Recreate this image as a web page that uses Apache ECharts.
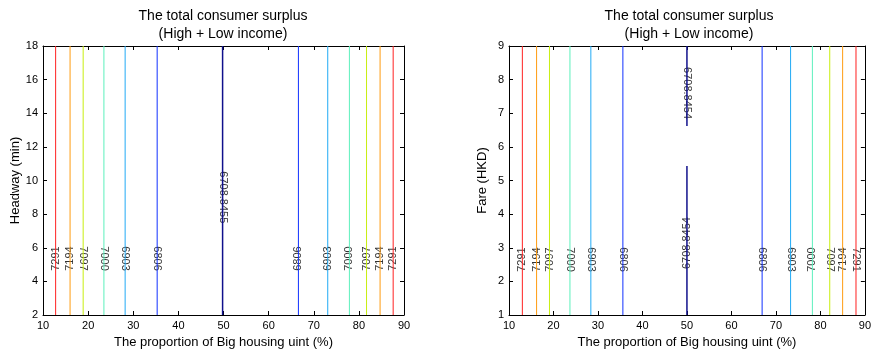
<!DOCTYPE html>
<html><head><meta charset="utf-8">
<script src="https://cdn.jsdelivr.net/npm/echarts@6/dist/echarts.min.js"></script>
<style>html,body{margin:0;padding:0;background:#fff}#c{width:874px;height:354px}</style>
</head><body><div id="c"></div>
<script>
// ---- data ----
const levelLabels = ['7291', '7194', '7097', '7000', '6903', '6806'];
const levelColors = ['#ff2020', '#ff9c10', '#c8ee10', '#5cf0bc', '#20aaf5', '#1030ff'];
const midColor = '#10108c';

// left panel: x = proportion of big housing unit, y = headway
const leftLowX = [12.8, 16.0, 18.9, 23.5, 28.2, 35.3];
const leftHighX = [87.6, 84.7, 81.7, 77.9, 73.1, 66.6];
const leftMidX = 49.8;
const leftMidLabel = '6708.8455';
const leftMidSegments = [[2, 18]];
const leftLabelY = 5.36;
const leftMidLabelY = [9.0];
const leftMidLabelRot = [-90];
const leftLowRot = [90, 90, -90, -90, -90, -90];
const leftHighRot = [90, 90, 90, 90, 90, 90];

// right panel: x = proportion of big housing unit, y = fare
const rightLowX = [13.0, 16.2, 19.1, 23.7, 28.4, 35.6];
const rightHighX = [88.0, 85.0, 82.1, 78.2, 73.3, 66.9];
const rightMidX = 50.0;
const rightMidLabel = '6708.8454';
const rightMidSegments = [[6.62, 9], [1, 5.43]];
const rightLabelY = 2.65;
const rightMidLabelY = [7.6, 3.14];
const rightMidLabelRot = [-90, 90];
const rightLowRot = [90, 90, 90, -90, -90, -90];
const rightHighRot = [-90, 90, -90, 90, -90, -90];

const xTicksMin = 10, xTicksMax = 90, xTicksStep = 10;
const leftY = {min: 2, max: 18, step: 2, name: 'Headway (min)'};
const rightY = {min: 1, max: 9, step: 1, name: 'Fare (HKD)'};
const xName = 'The proportion of Big housing uint (%)';
const titleText = 'The total consumer surplus\n(High + Low income)';

// ---- chart ----
const FONT = '"Liberation Sans", Arial, sans-serif';
const chart = echarts.init(document.getElementById('c'), null, {renderer: 'canvas'});

function baseAxis(extra) {
  return Object.assign({
    type: 'value',
    axisLine: {show: true, onZero: false, lineStyle: {color: '#000', width: 1}},
    axisTick: {show: true, inside: true, length: 4, lineStyle: {color: '#000'}},
    splitLine: {show: false},
    axisLabel: {color: '#000', fontSize: 11, fontFamily: FONT, margin: 5},
    nameTextStyle: {color: '#000', fontSize: 13, fontFamily: FONT}
  }, extra);
}

const grids = [
  {left: 43, top: 46, width: 361, height: 269},
  {left: 509, top: 46, width: 360, height: 269}
];

const xAxes = [], yAxes = [];
[leftY, rightY].forEach((ya, gi) => {
  xAxes.push(baseAxis({gridIndex: gi, position: 'bottom', min: xTicksMin, max: xTicksMax, interval: xTicksStep,
    name: xName, nameLocation: 'middle', nameGap: 20}));
  xAxes.push(baseAxis({gridIndex: gi, position: 'top', min: xTicksMin, max: xTicksMax, interval: xTicksStep,
    axisLabel: {show: false}}));
  yAxes.push(baseAxis({gridIndex: gi, position: 'left', min: ya.min, max: ya.max, interval: ya.step,
    name: ya.name, nameLocation: 'middle', nameGap: 20, nameRotate: 90}));
  yAxes.push(baseAxis({gridIndex: gi, position: 'right', min: ya.min, max: ya.max, interval: ya.step,
    axisLabel: {show: false}}));
});

const series = [];
function addPanel(gi, ya, lowX, highX, midX, midSegs, labelY, lowRot, highRot, midLabel, midLabelY, midRot) {
  const xi = gi * 2, yi = gi * 2;
  const lineS = (x, y0, y1, color, w) => ({
    type: 'line', xAxisIndex: xi, yAxisIndex: yi, data: [[x, y0], [x, y1]],
    symbol: 'none', silent: true, animation: false,
    lineStyle: {color: color, width: w}
  });
  levelLabels.forEach((lab, i) => {
    series.push(lineS(lowX[i], ya.min, ya.max, levelColors[i], 1));
    series.push(lineS(highX[i], ya.min, ya.max, levelColors[i], 1));
  });
  midSegs.forEach(s => series.push(lineS(midX, s[0], s[1], midColor, 1.5)));
  const pts = [];
  levelLabels.forEach((lab, i) => {
    pts.push({value: [lowX[i], labelY], name: lab, label: {rotate: lowRot[i]}});
    pts.push({value: [highX[i], labelY], name: lab, label: {rotate: highRot[i]}});
  });
  midLabelY.forEach((y, k) => pts.push({value: [midX, y], name: midLabel, label: {rotate: midRot[k]}}));
  series.push({
    type: 'scatter', xAxisIndex: xi, yAxisIndex: yi, data: pts, symbolSize: 0, silent: true, animation: false,
    label: {show: true, position: 'inside', formatter: p => p.name, color: '#000', fontSize: 11, fontFamily: FONT}
  });
}
addPanel(0, leftY, leftLowX, leftHighX, leftMidX, leftMidSegments, leftLabelY, leftLowRot, leftHighRot, leftMidLabel, leftMidLabelY, leftMidLabelRot);
addPanel(1, rightY, rightLowX, rightHighX, rightMidX, rightMidSegments, rightLabelY, rightLowRot, rightHighRot, rightMidLabel, rightMidLabelY, rightMidLabelRot);

const graphic = [223, 689].map(cx => ({
  type: 'text', x: cx, y: 7, silent: true,
  style: {text: titleText, align: 'center', verticalAlign: 'top', fill: '#000',
    fontSize: 14, fontFamily: FONT, lineHeight: 18}
}));

chart.setOption({
  animation: false,
  backgroundColor: '#fff',
  grid: grids,
  xAxis: xAxes,
  yAxis: yAxes,
  series: series,
  graphic: graphic
});
</script>
</body></html>
